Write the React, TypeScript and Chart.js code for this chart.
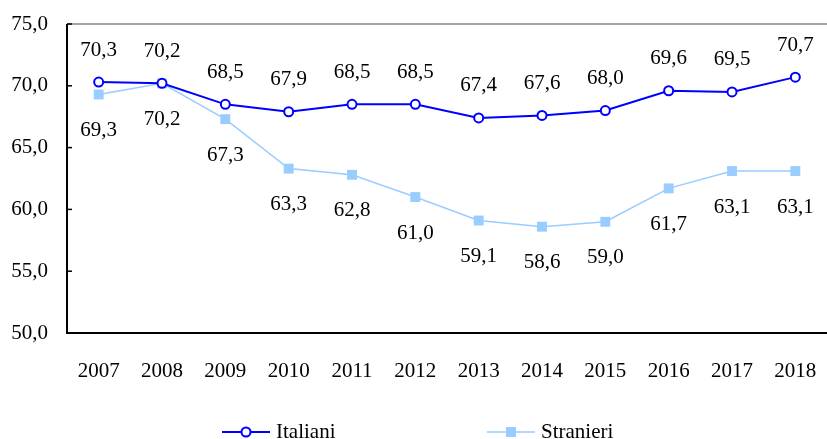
import React, { useEffect, useRef } from "react";
import { Chart, registerables } from "chart.js";

Chart.register(...registerables);

const years = ["2007", "2008", "2009", "2010", "2011", "2012", "2013", "2014", "2015", "2016", "2017", "2018"];
const italiani = [70.3, 70.2, 68.5, 67.9, 68.5, 68.5, 67.4, 67.6, 68.0, 69.6, 69.5, 70.7];
const stranieri = [69.3, 70.2, 67.3, 63.3, 62.8, 61.0, 59.1, 58.6, 59.0, 61.7, 63.1, 63.1];
const yTicks = [50, 55, 60, 65, 70, 75];

const FONT = '"Liberation Serif", "Times New Roman", serif';
const FSIZE = 21;
const fmt = (v: number) => v.toFixed(1).replace(".", ",");

const decorPlugin = {
  id: "decor",
  beforeDatasetsDraw(chart: any) {
    const { ctx, chartArea } = chart;
    const y = chart.scales.y;
    ctx.save();
    ctx.strokeStyle = "#888888";
    ctx.lineWidth = 1.5;
    ctx.beginPath();
    ctx.moveTo(chartArea.left, chartArea.top);
    ctx.lineTo(chartArea.right, chartArea.top);
    ctx.stroke();
    ctx.strokeStyle = "#000000";
    ctx.lineWidth = 2;
    ctx.beginPath();
    ctx.moveTo(chartArea.left, chartArea.top);
    ctx.lineTo(chartArea.left, chartArea.bottom);
    ctx.lineTo(chartArea.right, chartArea.bottom);
    ctx.stroke();
    ctx.lineWidth = 1.5;
    for (const t of yTicks) {
      const py = y.getPixelForValue(t);
      ctx.beginPath();
      ctx.moveTo(chartArea.left, py);
      ctx.lineTo(chartArea.left + 5, py);
      ctx.stroke();
    }
    ctx.restore();
  },
  afterDatasetsDraw(chart: any) {
    const { ctx } = chart;
    ctx.save();
    ctx.font = `${FSIZE}px ${FONT}`;
    ctx.fillStyle = "#000000";
    ctx.textAlign = "center";
    ctx.textBaseline = "middle";
    chart.data.datasets.forEach((ds: any, di: number) => {
      const meta = chart.getDatasetMeta(di);
      meta.data.forEach((pt: any, i: number) => {
        const off = di === 0 ? -32 : 36;
        ctx.fillText(fmt(ds.data[i]), pt.x, pt.y + off);
      });
    });
    const ly = 432;
    const drawItem = (x0: number, color: string, kind: string, label: string, lw: number) => {
      ctx.strokeStyle = color;
      ctx.lineWidth = lw;
      ctx.beginPath();
      ctx.moveTo(x0, ly);
      ctx.lineTo(x0 + 48, ly);
      ctx.stroke();
      if (kind === "circle") {
        ctx.lineWidth = 2;
        ctx.fillStyle = "#ffffff";
        ctx.beginPath();
        ctx.arc(x0 + 24, ly, 4.5, 0, Math.PI * 2);
        ctx.fill();
        ctx.stroke();
      } else {
        ctx.fillStyle = color;
        ctx.fillRect(x0 + 24 - 5, ly - 5, 10, 10);
      }
      ctx.fillStyle = "#000000";
      ctx.textAlign = "left";
      ctx.fillText(label, x0 + 54, ly);
    };
    drawItem(222, "#0000ff", "circle", "Italiani", 2);
    drawItem(487, "#99ccff", "square", "Stranieri", 1.5);
    ctx.restore();
  },
};

export default function App() {
  const ref = useRef<HTMLCanvasElement | null>(null);
  useEffect(() => {
    document.body.style.margin = "0";
    if (!ref.current) return;
    const chart = new Chart(ref.current, {
      type: "line",
      data: {
        labels: years,
        datasets: [
          {
            label: "Italiani",
            data: italiani,
            borderColor: "#0000ff",
            backgroundColor: "#ffffff",
            borderWidth: 2,
            pointStyle: "circle",
            pointRadius: 4.5,
            pointBorderWidth: 2,
            pointBackgroundColor: "#ffffff",
            pointBorderColor: "#0000ff",
            tension: 0,
          },
          {
            label: "Stranieri",
            data: stranieri,
            borderColor: "#99ccff",
            backgroundColor: "#99ccff",
            borderWidth: 1.5,
            pointStyle: "rect",
            pointRadius: 7,
            pointBorderWidth: 0,
            pointBackgroundColor: "#99ccff",
            pointBorderColor: "#99ccff",
            tension: 0,
          },
        ],
      },
      options: {
        responsive: false,
        animation: false,
        layout: { autoPadding: false, padding: { top: 24, right: 0, left: 0, bottom: 0 } },
        plugins: { legend: { display: false }, tooltip: { enabled: false } },
        scales: {
          x: {
            offset: true,
            grid: { display: false, drawTicks: false },
            border: { display: false },
            ticks: { padding: 26, color: "#000", maxRotation: 0, font: { family: FONT, size: FSIZE } },
            afterFit: (s: any) => {
              s.height = 106;
              s.paddingLeft = 0;
              s.paddingRight = 0;
            },
          },
          y: {
            min: 50,
            max: 75,
            grid: { display: false, drawTicks: false },
            border: { display: false },
            afterBuildTicks: (s: any) => { s.ticks = yTicks.map((v) => ({ value: v })); },
            ticks: {
              padding: 19,
              color: "#000",
              font: { family: FONT, size: FSIZE },
              callback: (v: any) => fmt(Number(v)),
            },
            afterFit: (s: any) => {
              s.width = 67;
              s.paddingTop = 0;
              s.paddingBottom = 0;
            },
          },
        },
      },
      plugins: [decorPlugin],
    });
    return () => chart.destroy();
  }, []);
  return <canvas ref={ref} width={827} height={439} style={{ display: "block" }} />;
}
